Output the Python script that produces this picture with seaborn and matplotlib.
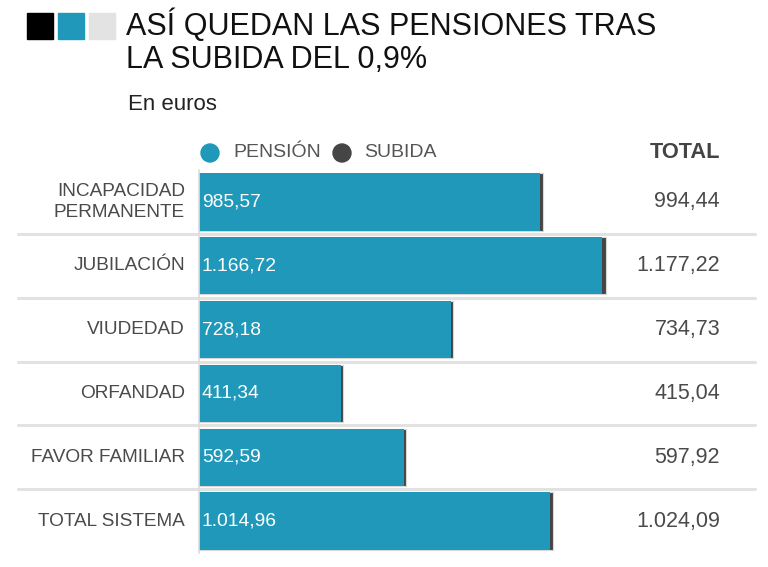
import numpy as np
import pandas as pd
import matplotlib
matplotlib.use("Agg")
import matplotlib.pyplot as plt
import seaborn as sns

# Data
categories = ["INCAPACIDAD\nPERMANENTE", "JUBILACIÓN", "VIUDEDAD", "ORFANDAD",
              "FAVOR FAMILIAR", "TOTAL SISTEMA"]
pension = [985.57, 1166.72, 728.18, 411.34, 592.59, 1014.96]
total = [994.44, 1177.22, 734.73, 415.04, 597.92, 1024.09]

pension_labels = ["985,57", "1.166,72", "728,18", "411,34", "592,59", "1.014,96"]
total_labels = ["994,44", "1.177,22", "734,73", "415,04", "597,92", "1.024,09"]

TEAL = "#1f98ba"
DARK = "#454545"
GREY_TXT = "#4a4a4a"

sns.set_style("white")
plt.rcParams['font.family'] = ['Liberation Sans', 'DejaVu Sans']

df = pd.DataFrame({"cat": categories, "pension": pension, "total": total})

fig = plt.figure(figsize=(7.68, 5.67), dpi=100)
W, H = 768, 567
ax = fig.add_axes([199 / W, 1 - 553 / H, 556 / W, 383 / H])

# stacked look: total bar in dark, pension bar on top in teal
sns.barplot(data=df, x="total", y="cat", color=DARK, width=0.9, ax=ax,
            saturation=1, edgecolor="#d8d8d8", linewidth=0.8)
sns.barplot(data=df, x="pension", y="cat", color=TEAL, width=0.9, ax=ax,
            saturation=1, edgecolor="none", linewidth=0)

ax.set_xlim(0, 556 / 0.3458)
ax.set_ylim(5.5, -0.5)
ax.set_xlabel("")
ax.set_ylabel("")
ax.set_xticks([])
ax.set_yticks([])
for s in ["top", "right", "bottom"]:
    ax.spines[s].set_visible(False)
ax.spines["left"].set_color("#dddddd")
ax.spines["left"].set_linewidth(1.2)

# row separators, running out to the left under the labels
x_left = (18 - 199) / 556
for i in range(len(categories) - 1):
    ax.axhline(i + 0.5, xmin=x_left, xmax=1, color="#e2e2e2", lw=2.2,
               clip_on=False, zorder=0)

xmax = ax.get_xlim()[1]
for i, cat in enumerate(categories):
    ax.text(-14 / 556 * xmax, i, cat, ha="right", va="center", fontsize=13.7,
            color=GREY_TXT, linespacing=1.3)
    ax.text(8, i, pension_labels[i], ha="left", va="center", fontsize=13.9,
            color="white")
    ax.text((720 - 199) / 556 * xmax, i, total_labels[i], ha="right",
            va="center", fontsize=15.5, color=GREY_TXT)

# header
for x0, c in [(27, "#000000"), (58, TEAL), (89, "#e3e3e3")]:
    fig.patches.append(plt.Rectangle((x0 / W, 1 - 39 / H), 26 / W, 26 / H,
                                     transform=fig.transFigure, color=c))
fig.text(126 / W, 1 - 25 / H, "ASÍ QUEDAN LAS PENSIONES TRAS", fontsize=22,
         color="#111111", va="center", ha="left")
fig.text(126 / W, 1 - 60 / H, "LA SUBIDA DEL 0,9%", fontsize=22,
         color="#111111", va="center", ha="left")
fig.text(128 / W, 1 - 104 / H, "En euros", fontsize=16, color="#222222",
         va="center", ha="left")

# legend
ly = 1 - 153 / H
fig.patches.append(matplotlib.patches.Ellipse((210 / W, ly), 18 / W, 18 / H,
                   transform=fig.transFigure, color=TEAL))
fig.text(233 / W, ly, "PENSIÓN", fontsize=14, color="#555555", va="center")
fig.patches.append(matplotlib.patches.Ellipse((342 / W, ly), 18 / W, 18 / H,
                   transform=fig.transFigure, color=DARK))
fig.text(364 / W, ly, "SUBIDA", fontsize=14, color="#555555", va="center")
fig.text(720 / W, ly, "TOTAL", fontsize=15.7, color="#444444", va="center",
         ha="right", fontweight="bold")

fig.savefig("out.png", dpi=100)
